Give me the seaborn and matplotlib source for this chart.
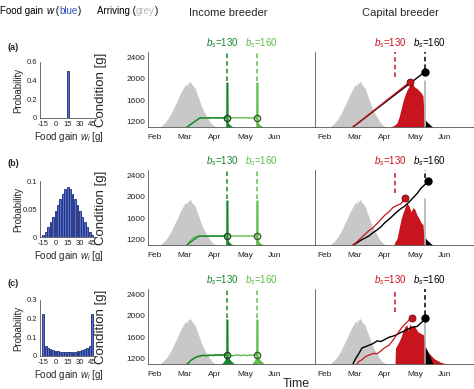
import matplotlib
matplotlib.use("Agg")
import matplotlib.pyplot as plt
from matplotlib.ticker import MultipleLocator
import pandas as pd
import seaborn as sns

sns.set_style("white")
plt.rcParams['font.family'] = ['Liberation Sans', 'DejaVu Sans']
plt.rcParams['mathtext.fontset'] = 'custom'
plt.rcParams['mathtext.rm'] = 'Liberation Sans'
plt.rcParams['mathtext.it'] = 'Liberation Sans:italic'
plt.rcParams['xtick.direction'] = 'in'
plt.rcParams['ytick.direction'] = 'in'

GREY = "#c8c8c8"
DKGREEN = "#17862b"
LTGREEN = "#5cbd48"
RED = "#c8151d"
BLUE_FILL = "#5270cf"
BLUE_EDGE = "#1c2b78"
AXCOL = "#555555"

# ---------------- data ----------------
food_gain = [-15, -12, -9, -6, -3, 0, 3, 6, 9, 12, 15, 18, 21, 24, 27, 30, 33, 36, 39, 42, 45]
prob_a = [0, 0, 0, 0, 0, 0, 0, 0, 0, 0, 0.5, 0, 0, 0, 0, 0, 0, 0, 0, 0, 0]
prob_b = [0.004, 0.009, 0.017, 0.026, 0.036, 0.047, 0.058, 0.068, 0.077, 0.085, 0.090,
          0.085, 0.077, 0.068, 0.058, 0.047, 0.036, 0.026, 0.017, 0.009, 0.004]
prob_c = [0.225, 0.055, 0.042, 0.035, 0.030, 0.027, 0.025, 0.024, 0.023, 0.023, 0.023,
          0.023, 0.023, 0.024, 0.025, 0.027, 0.030, 0.035, 0.042, 0.055, 0.225]
gain_ticks = [-15, 0, 15, 30, 45]
gain_labels = ['-15', '0', '15', '30', '45']

month_days = [30, 60, 90, 120, 150]
month_names = ['Feb', 'Mar', 'Apr', 'May', 'Jun']

# arrival distribution (grey), height above the axis floor
arrive_day = [34, 36, 38, 40, 42, 44, 46, 48, 50, 52, 54, 56, 58, 60, 61, 62, 63, 64, 65,
              66, 67, 68, 70, 72, 74, 76, 78, 80, 82, 84, 86, 88, 90, 92]
arrive_h = [0, 15, 50, 85, 130, 190, 250, 330, 410, 480, 570, 650, 720, 780, 800, 760, 840,
            810, 850, 830, 790, 770, 730, 620, 520, 410, 320, 250, 190, 120, 70, 35, 10, 0]

# income breeder: laying dates of the two breeding dates
inc_lay = [102, 132]
spike_off = [-1.3, -1.2, 1.0, 1.1, 2.0, 3.0, 4.0, 5.5, 7.0]
spike_h = [0, 840, 840, 90, 60, 40, 25, 10, 0]
spike_off_c = [-6, -4, -2, -1.3, -1.2, 1.0, 1.1, 2.0, 4.0, 6.0, 8.0]
spike_h_c = [0, 30, 80, 150, 840, 840, 160, 110, 60, 25, 0]

inc_a_dk_day = [62, 75, 102]
inc_a_dk_g = [1100, 1270, 1270]
inc_a_lt_day = [62, 75, 132]
inc_a_lt_g = [1100, 1270, 1270]

inc_b_dk_day = [62, 66, 70, 74, 102]
inc_b_dk_g = [1100, 1160, 1215, 1265, 1265]
inc_b_lt_day = [62, 65, 68, 71, 74, 77, 132]
inc_b_lt_g = [1100, 1170, 1230, 1258, 1266, 1268, 1268]

inc_c_dk_day = [62, 64, 66, 68, 70, 72, 75, 78, 81, 84, 87, 90, 93, 96, 99, 102]
inc_c_dk_g = [1100, 1130, 1170, 1190, 1220, 1235, 1250, 1262, 1255, 1268, 1258, 1272,
              1262, 1275, 1266, 1270]
inc_c_lt_day = [62, 65, 68, 71, 74, 77, 80, 83, 86, 89, 92, 95, 98, 101, 104, 107, 110,
                113, 116, 119, 122, 125, 128, 132]
inc_c_lt_g = [1100, 1150, 1200, 1230, 1240, 1255, 1262, 1250, 1265, 1255, 1270, 1260,
              1268, 1258, 1266, 1252, 1262, 1270, 1258, 1266, 1256, 1272, 1262, 1270]

# capital breeder
cap_dash = [100, 130]
cap_a_red_day = [58, 115]
cap_a_red_g = [1100, 1944]
cap_a_blk_day = [58, 130]
cap_a_blk_g = [1100, 2131]

cap_b_red_day = [58, 62, 66, 70, 74, 78, 82, 86, 90, 94, 98, 102, 106, 110]
cap_b_red_g = [1100, 1160, 1230, 1300, 1370, 1420, 1500, 1580, 1660, 1720, 1800, 1840,
               1870, 1980]
cap_b_blk_day = [58, 62, 66, 70, 74, 78, 82, 86, 90, 94, 98, 102, 106, 110, 114, 118, 122,
                 126, 130, 133]
cap_b_blk_g = [1100, 1140, 1190, 1230, 1270, 1330, 1380, 1440, 1520, 1580, 1650, 1720,
               1780, 1830, 1900, 1980, 2060, 2160, 2230, 2286]

cap_c_red_day = [62, 64, 67, 70, 73, 76, 79, 82, 85, 88, 91, 94, 97, 100, 103, 106, 109,
                 112, 115, 117]
cap_c_red_g = [1100, 1150, 1180, 1230, 1260, 1280, 1300, 1290, 1330, 1380, 1420, 1450,
               1520, 1600, 1680, 1760, 1830, 1880, 1940, 1958]
cap_c_blk_day = [58, 60, 64, 67, 70, 74, 78, 82, 86, 90, 94, 98, 102, 106, 110, 114, 118,
                 122, 125, 128, 130]
cap_c_blk_g = [1100, 1180, 1300, 1400, 1420, 1450, 1480, 1530, 1520, 1560, 1600, 1620,
               1650, 1690, 1720, 1760, 1790, 1800, 1850, 1900, 1958]

red_a_day = [96, 98, 100, 102, 104, 106, 108, 110, 112, 114, 116, 118, 120, 122, 124, 126,
             128, 129.5]
red_a_h = [10, 20, 40, 80, 180, 330, 480, 600, 690, 760, 830, 790, 740, 720, 680, 640, 580, 0]
red_b_day = [99, 100, 102, 104, 106, 108, 110, 112, 114, 116, 118, 120, 122, 124, 126, 128,
             129.5]
red_b_h = [0, 60, 120, 300, 480, 600, 700, 780, 730, 620, 700, 660, 560, 500, 420, 380, 0]
red_c_day = [100, 100.5, 102, 104, 106, 108, 110, 112, 113, 115, 117, 119, 121, 123, 125,
             127, 129, 130, 132, 134, 136, 138, 140, 143, 146, 150, 152]
red_c_h = [0, 300, 350, 420, 500, 620, 700, 730, 620, 750, 680, 720, 660, 600, 580, 560,
           540, 300, 250, 200, 160, 120, 90, 60, 30, 10, 0]

blk_off = [0, 0.3, 2, 4, 6, 8]
blk_h = [0, 130, 95, 60, 25, 0]
blk_h_c = [0, 320, 260, 180, 90, 0]

FLOOR = 1100
TOP = 2500

W, H = 474, 389
fig = plt.figure(figsize=(W / 100, H / 100), dpi=100)


def px(l, b, w, h):
    return [l / W, 1 - b / H, w / W, h / H]


def style_axes(ax):
    for s in ['top', 'right']:
        ax.spines[s].set_visible(False)
    for s in ['left', 'bottom']:
        ax.spines[s].set_color(AXCOL)
        ax.spines[s].set_linewidth(0.6)
    ax.tick_params(colors=AXCOL, labelcolor='#222222', width=0.5, length=2.5, pad=2)
    ax.tick_params(which='minor', width=0.4, length=1.5, colors=AXCOL)


def hist_panel(rect, probs, ylim, yticks, ylabels):
    ax = fig.add_axes(rect)
    ax.bar(food_gain, probs, width=2.2, color=BLUE_FILL, edgecolor=BLUE_EDGE, linewidth=0.6)
    ax.set_xlim(-19, 51)
    ax.set_ylim(*ylim)
    ax.set_xticks(gain_ticks)
    ax.set_xticklabels(gain_labels)
    ax.set_yticks(yticks)
    ax.set_yticklabels(ylabels)
    style_axes(ax)
    ax.tick_params(labelsize=5.5, length=0)
    ax.set_ylabel('Probability', fontsize=7)
    ax.yaxis.set_label_coords(-0.29, 0.5)
    ax.set_xlabel(r'Food gain $w_i$ [g]', fontsize=7, labelpad=1.5)
    return ax


def cond_axes(rect, xlim, left_labels=True):
    ax = fig.add_axes(rect)
    ax.set_xlim(*xlim)
    ax.set_ylim(FLOOR, TOP)
    ax.set_xticks(month_days)
    ax.set_xticklabels(month_names)
    ax.set_yticks([1200, 1600, 2000, 2400])
    ax.yaxis.set_minor_locator(MultipleLocator(200))
    style_axes(ax)
    ax.tick_params(labelsize=6)
    ax.tick_params(axis='x', pad=5)
    if left_labels:
        ax.set_ylabel('Condition [g]', fontsize=9.5)
        ax.yaxis.set_label_coords(-0.26, 0.5)
    else:
        ax.set_yticklabels([])
        ax.spines['left'].set_position(('data', 20))
    return ax


def fill_dist(ax, days, heights, color, z=1):
    base = [FLOOR] * len(days)
    tops = [FLOOR + h for h in heights]
    ax.fill_between(days, base, tops, color=color, lw=0, zorder=z)


def bs_labels(ax, days, colors, tops):
    ax.text(days[0] - 4.5, TOP + 40, r'$b_s$=130', color=colors[0], fontsize=7,
            ha='center', va='bottom', clip_on=False)
    ax.text(days[1] + 4.5, TOP + 40, r'$b_s$=160', color=colors[1], fontsize=7,
            ha='center', va='bottom', clip_on=False)
    for d, c, t in zip(days, colors, tops):
        ax.plot([d, d], [t, TOP], ls=(0, (3, 2)), color=c, lw=1.1, clip_on=False, zorder=4)


def income_panel(rect, dk_day, dk_g, lt_day, lt_g, offs, hts):
    ax = cond_axes(rect, (23, 180))
    fill_dist(ax, arrive_day, arrive_h, GREY)
    for lay, col in zip(inc_lay, [DKGREEN, LTGREEN]):
        fill_dist(ax, [lay + o for o in offs], hts, col, z=2)
    df_dk = pd.DataFrame({'day': dk_day, 'g': dk_g})
    df_lt = pd.DataFrame({'day': lt_day, 'g': lt_g})
    sns.lineplot(data=df_lt, x='day', y='g', ax=ax, color=LTGREEN, lw=1.0, sort=False,
                 estimator=None, zorder=3)
    sns.lineplot(data=df_dk, x='day', y='g', ax=ax, color=DKGREEN, lw=1.0, sort=False,
                 estimator=None, zorder=3)
    ax.plot(dk_day[-1], dk_g[-1], 'o', mfc='none', mec='#214a22', mew=1.0, ms=4.5, zorder=5)
    ax.plot(lt_day[-1], lt_g[-1], 'o', mfc='none', mec='#3a5a2a', mew=1.0, ms=4.5, zorder=5)
    bs_labels(ax, inc_lay, [DKGREEN, LTGREEN], [FLOOR + max(hts) + 20] * 2)
    ax.set_xlabel('')
    return ax


def capital_panel(rect, red_day, red_h, bh, rd_day, rd_g, bk_day, bk_g, red_dash_bottom):
    ax = cond_axes(rect, (10, 179), left_labels=False)
    fill_dist(ax, arrive_day, arrive_h, GREY)
    fill_dist(ax, red_day, red_h, RED, z=2)
    fill_dist(ax, [cap_dash[1] + o for o in blk_off], bh, 'black', z=2)
    ax.plot([cap_dash[1], cap_dash[1]], [FLOOR, FLOOR + 850], color='#a8a8a8', lw=1.1,
            zorder=2)
    df_r = pd.DataFrame({'day': rd_day, 'g': rd_g})
    df_k = pd.DataFrame({'day': bk_day, 'g': bk_g})
    sns.lineplot(data=df_k, x='day', y='g', ax=ax, color='black', lw=1.0, sort=False,
                 estimator=None, zorder=3)
    sns.lineplot(data=df_r, x='day', y='g', ax=ax, color=RED, lw=0.9, sort=False,
                 estimator=None, zorder=3)
    ax.plot(rd_day[-1], rd_g[-1], 'o', mfc=RED, mec='#6a0a0a', mew=0.6, ms=5, zorder=5)
    ax.plot(bk_day[-1], bk_g[-1], 'o', mfc='black', mec='black', ms=5, zorder=5)
    bs_labels(ax, cap_dash, [RED, 'black'], [red_dash_bottom, bk_g[-1] + 60])
    ax.set_xlabel('')
    ax.set_ylabel('')
    return ax


hist_panel(px(40, 118, 57, 56), prob_a, (0, 0.6), [0, 0.2, 0.4, 0.6], ['0', '0.2', '0.4', '0.6'])
hist_panel(px(40, 237, 57, 56), prob_b, (0, 0.1), [0, 0.05, 0.1], ['0', '0.05', '0.1'])
hist_panel(px(40, 356, 57, 56), prob_c, (0, 0.3), [0, 0.1, 0.2, 0.3], ['0', '0.1', '0.2', '0.3'])

income_panel(px(148, 127, 157, 75), inc_a_dk_day, inc_a_dk_g, inc_a_lt_day, inc_a_lt_g,
             spike_off, spike_h)
income_panel(px(148, 245, 157, 75), inc_b_dk_day, inc_b_dk_g, inc_b_lt_day, inc_b_lt_g,
             spike_off, spike_h)
income_panel(px(148, 364, 157, 75), inc_c_dk_day, inc_c_dk_g, inc_c_lt_day, inc_c_lt_g,
             spike_off_c, spike_h_c)

capital_panel(px(305, 127, 169, 75), red_a_day, red_a_h, blk_h, cap_a_red_day, cap_a_red_g,
              cap_a_blk_day, cap_a_blk_g, 2040)
capital_panel(px(305, 245, 169, 75), red_b_day, red_b_h, blk_h, cap_b_red_day, cap_b_red_g,
              cap_b_blk_day, cap_b_blk_g, 2080)
capital_panel(px(305, 364, 169, 75), red_c_day, red_c_h, blk_h_c, cap_c_red_day, cap_c_red_g,
              cap_c_blk_day, cap_c_blk_g, 2070)

# panel letters
for lab, y in zip(['(a)', '(b)', '(c)'], [47, 163, 283]):
    fig.text(8 / W, 1 - y / H, lab, fontsize=6.5, fontweight='bold', va='center')

# column headers
fig.text(228 / W, 1 - 13 / H, 'Income breeder', fontsize=8, ha='center', va='center')
fig.text(400 / W, 1 - 13 / H, 'Capital breeder', fontsize=8, ha='center', va='center')


def chain(x, y, parts):
    # write coloured / italic pieces one after another on one line
    t = fig.text(x, y, parts[0][0], color=parts[0][1], style=parts[0][2], fontsize=7,
                 va='center')
    for s, c, st in parts[1:]:
        t = plt.annotate(s, xy=(1, 0), xycoords=t, va='bottom', ha='left', color=c,
                         style=st, fontsize=7, annotation_clip=False)
    return t


chain(0.5 / W, 1 - 11 / H, [('Food gain ', 'black', 'normal'), ('w', 'black', 'italic'),
                            (' (', 'black', 'normal'), ('blue', '#2f4fc0', 'normal'),
                            (')', 'black', 'normal')])
chain(97 / W, 1 - 11 / H, [('Arriving (', 'black', 'normal'), ('grey', '#b8b8b8', 'normal'),
                           (')', 'black', 'normal')])

fig.text(296 / W, 1 - 384 / H, 'Time', fontsize=9, ha='center', va='center')

fig.savefig('out.png', dpi=100)
